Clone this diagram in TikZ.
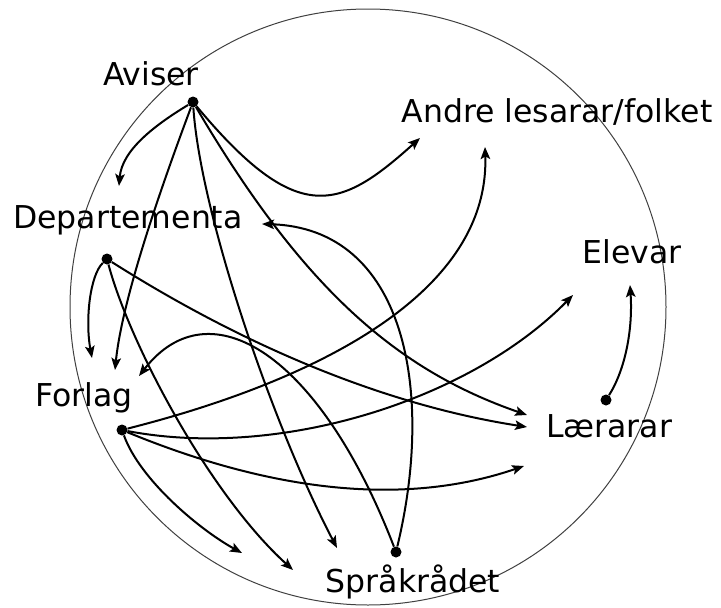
\documentclass[tikz,border=0pt]{standalone}
\usepackage{fontspec}
\setmainfont{DejaVu Sans}
\usetikzlibrary{arrows.meta}
\tikzset{
  dot/.style={circle,fill,inner sep=0pt,minimum size=11pt},
  lbl/.style={anchor=base,inner sep=0pt,font=\fontsize{31.5}{38}\selectfont},
  link/.style={line width=2pt,-{Stealth[length=12pt,width=9.5pt,inset=2.5pt]}}
}
\begin{document}
\begin{tikzpicture}[x=1pt,y=-1pt]
      \useasboundingbox (0,0) rectangle (721,608);
      \draw[black!75,line width=1pt] (368,307) circle[radius=298pt];
      \draw
        (151,85) node[lbl] (aviser){Aviser}
        (557,122) node[lbl] (andre){Andre lesarar/folket}
        (128,228) node[lbl] (dep){Departementa}
        (632,263) node[lbl] (elevar){Elevar}
        (84,406) node[lbl] (forlag){Forlag}
        (609,437) node[lbl] (larar){Lærarar}
        (413,592) node[lbl] (sprak){Språkrådet};
      \draw
        (193,102) node[dot] (aviser-d){}
        (107,259) node[dot] (dep-d){}
        (122,430) node[dot] (forlag-d){}
        (396,552) node[dot] (sprak-d){}
        (606,400) node[dot] (larar-d){};
      \coordinate (dep-1) at (119,186);
      \coordinate (dep-2) at (262,224);
      \coordinate (forlag-1) at (115,370);
      \coordinate (forlag-2) at (92,358);
      \coordinate (forlag-3) at (139,376);
      \coordinate (sprak-1) at (337,548);
      \coordinate (sprak-2) at (293,570);
      \coordinate (sprak-3) at (242,553);
      \coordinate (larar-1) at (527,415);
      \coordinate (larar-2) at (527,427);
      \coordinate (larar-3) at (524,466);
      \coordinate (andre-1) at (420,138);
      \coordinate (andre-2) at (485,147);
      \coordinate (elevar-1) at (573,295);
      \coordinate (elevar-2) at (630,285);
      \begin{scope}[link]
        \draw (aviser-d) .. controls (155,125) and (122,150) .. (dep-1);
        \draw (aviser-d) .. controls (160,190) and (122,300) .. (forlag-1);
        \draw (aviser-d) .. controls (200,210) and (270,420) .. (sprak-1);
        \draw (aviser-d) .. controls (303,289) and (397,370) .. (larar-1);
        \draw (aviser-d) .. controls (298,228) and (340,210) .. (andre-1);
        \draw (dep-d) .. controls (90,275) and (85,320) .. (forlag-2);
        \draw (dep-d) .. controls (130,345) and (210,495) .. (sprak-2);
        \draw (dep-d) .. controls (257,354) and (397,407) .. (larar-2);
        \draw (forlag-d) .. controls (300,385) and (490,300) .. (andre-2);
        \draw (forlag-d) .. controls (280,460) and (470,400) .. (elevar-1);
        \draw (forlag-d) .. controls (280,495) and (410,505) .. (larar-3);
        \draw (forlag-d) .. controls (140,480) and (200,530) .. (sprak-3);
        \draw (sprak-d) .. controls (435,390) and (405,228) .. (dep-2);
        \draw (sprak-d) .. controls (320,355) and (210,285) .. (forlag-3);
        \draw (larar-d) .. controls (625,370) and (633,330) .. (elevar-2);
      \end{scope}
    \end{tikzpicture}
\end{document}
